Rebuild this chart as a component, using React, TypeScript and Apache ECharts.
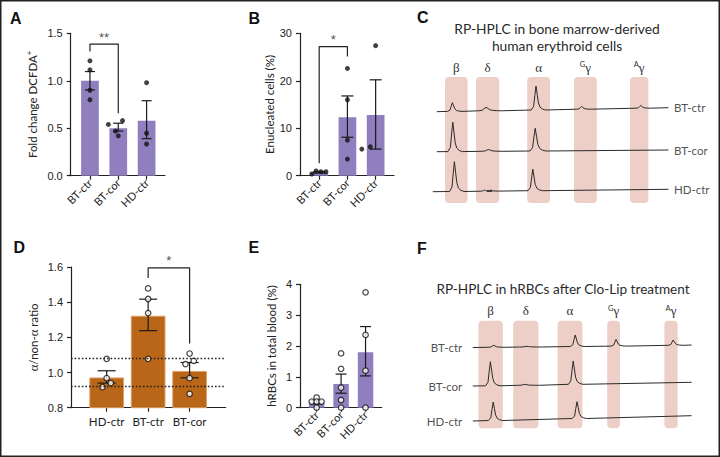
import React, { useEffect, useRef } from 'react';
import * as echarts from 'echarts';

// ---------------- DATA ----------------
// Panel A: fold change DCFDA+
const CATS_ABE = ['BT-ctr', 'BT-cor', 'HD-ctr'];
const A_MEAN = [1.0, 0.5, 0.58];
const A_ERR = [[0.904, 1.097], [0.47, 0.553], [0.39, 0.79]];
// [group, jitter, value]
const A_PTS = [
  [0, 0, 1.21], [0, 0, 1.115], [0, 0, 0.9], [0, 0, 0.8],
  [1, -0.35, 0.54], [1, 0.15, 0.58], [1, -0.1, 0.47], [1, 0.0, 0.42],
  [2, 0, 0.98], [2, 0, 0.447], [2, 0, 0.334],
];
const A_SIG = { from: 0, to: 1, top: 1.386, left: 1.308, right: 0.658, text: '**' };

// Panel B: enucleated cells (%)
const B_MEAN = [0.7, 12.3, 12.8];
const B_ERR = [[0.55, 0.85], [8.1, 16.8], [5.6, 20.2]];
const B_PTS = [
  [0, -0.26, 0.35], [0, -0.11, 1.0], [0, 0.06, 0.85], [0, 0.24, 0.85],
  [1, 0, 22.6], [1, 0, 16.0], [1, 0, 7.5], [1, 0, 3.5],
  [2, 0, 27.4], [2, -0.49, 5.6], [2, -0.19, 6.1],
];
const B_SIG = { from: 0, to: 1, top: 27.2, left: 2.6, right: 25.1, text: '*' };

// Panel D: alpha/non-alpha ratio
const CATS_D = ['HD-ctr', 'BT-ctr', 'BT-cor'];
const D_MEAN = [0.972, 1.323, 1.009];
const D_ERR = [[0.94, 1.01], [1.238, 1.417], [0.97, 1.057]];
const D_PTS = [
  [0, 0, 1.078], [0, 0, 0.968], [0, 0.1, 0.94], [0, -0.1, 0.917],
  [1, 0, 1.478], [1, 0, 1.418], [1, 0, 1.338], [1, 0, 1.078],
  [2, 0, 1.108], [2, -0.1, 1.048], [2, 0.1, 1.066], [2, 0, 0.968], [2, 0, 0.879],
];
const D_REF = [1.08, 0.92];
const D_SIG = { from: 1, to: 2, top: 1.595, left: 1.537, right: 1.165, text: '*' };

// Panel E: hRBCs in total blood (%)
const E_MEAN = [0.17, 0.77, 1.8];
const E_ERR = [[0.12, 0.24], [0.47, 1.09], [1.03, 2.63]];
const E_PTS = [
  [0, 0, 0.33], [0, -0.2, 0.2], [0, 0, 0.2], [0, 0.2, 0.2], [0, 0, 0.0],
  [1, 0, 1.76], [1, 0, 1.26], [1, 0, 0.65], [1, 0, 0.25], [1, 0, 0.0],
  [2, 0, 3.74], [2, 0, 2.36], [2, 0, 1.2], [2, 0, 0.0],
];

// Chromatograms: globin chain windows [tStart, tEnd] and labels
const GLOBIN_LABELS = ['β', 'δ', 'α', '{s|G}{g|γ}', '{s|A}{g|γ}'];
const C_WINDOWS = [[3.75, 9.4], [11.5, 17.3], [24.3, 30], [36, 41.7], [50, 54.6]];
const F_WINDOWS = [[2.1, 8.2], [10.8, 17.1], [21.9, 28.1], [34.3, 37.5], [48.6, 51.9]];
// peaks: [time, baseline, apex, width]
const C_TRACES = [
  { name: 'BT-ctr', start: [1.7, 91.3], end: [59.6, 95.3],
    peaks: [[5.6, 91.6, 100.3, 1], [14, 92.2, 95.7, 1.6], [26.5, 93.0, 117, 1], [37.9, 93.8, 96.5, 1], [52.7, 94.8, 97.5, 1]] },
  { name: 'BT-cor', start: [1.7, 51.3], end: [59.6, 53.0],
    peaks: [[5.7, 51.4, 80.7, 1], [14.6, 51.7, 53.5, 1.5], [26.3, 52.0, 74.7, 1.1]] },
  { name: 'HD-ctr', start: [0.7, 11.3], end: [59.6, 13.7],
    peaks: [[6.1, 11.5, 41.3, 1], [13.6, 11.8, 13.0, 0.8], [15.2, 11.9, 13.0, 0.8], [25.7, 12.3, 33.7, 1]] },
];
const F_TRACES = [
  { name: 'BT-ctr', start: [0.7, 80.8], end: [55.4, 83.3],
    peaks: [[5.9, 81.0, 83.0, 1.2], [14.2, 81.3, 82.0, 1.5], [26.3, 81.8, 93.3, 1], [36.5, 82.2, 88.8, 1], [50.8, 83.0, 88.3, 1]] },
  { name: 'BT-cor', start: [0.7, 42.3], end: [55.4, 46.0],
    peaks: [[5.1, 42.5, 66.6, 1], [13.75, 43.0, 44.0, 1.5], [25.8, 44.0, 67.3, 1]] },
  { name: 'HD-ctr', start: [0.7, 7.3], end: [55.4, 12.6],
    peaks: [[5.8, 7.8, 26.3, 1], [26.75, 9.8, 26.6, 1]] },
];
// relative peak glyph profile [dt, fraction of height]
const PEAK_PROFILE = [[-1.2, 0], [-0.6, 0.15], [-0.3, 0.6], [0, 1], [0.3, 0.65], [0.6, 0.3], [1.0, 0.12], [1.6, 0.04], [2.4, 0]];

// ---------------- STYLE ----------------
const AX = '#222';
const FONT = 'Lato, "Open Sans", sans-serif';
const NUMFONT = '"Liberation Sans", Arial, sans-serif';
const SERIF = '"Liberation Serif", "DejaVu Serif", serif';
const PURPLE = '#8f7fbe';
const ORANGE = '#b96618';
const PINK = '#eecfc8';

const grids = [
  { left: 70.7, top: 33.3, width: 94.3, height: 142.4 }, // A
  { left: 300, top: 33.3, width: 94, height: 142.4 }, // B
  { left: 71, top: 267, width: 154.7, height: 140.7 }, // D
  { left: 300, top: 284.3, width: 81.7, height: 123.4 }, // E
  { left: 430, top: 77, width: 240, height: 126 }, // C
  { left: 470, top: 320.7, width: 224, height: 107.6 }, // F
];

const lineStyle = { color: AX, width: 1.2 };

function barPanel(gi: number, p: any) {
  const idx = p.cats.map((_: any, i: number) => i);
  const xAxis = {
    gridIndex: gi, type: 'value', min: p.xmin, max: p.xmax,
    axisLine: { show: true, onZero: false, lineStyle },
    axisTick: { show: true, customValues: idx, length: 4, lineStyle },
    axisLabel: {
      show: true, customValues: idx, formatter: (v: number) => p.cats[Math.round(v)],
      rotate: p.rotate, margin: p.labelMargin, fontSize: p.catFont, color: '#222', fontFamily: FONT,
    },
    splitLine: { show: false },
  };
  const yAxis = {
    gridIndex: gi, type: 'value', min: p.ymin, max: p.ymax, interval: p.yint,
    axisLine: { show: true, onZero: false, lineStyle },
    axisTick: { show: true, length: 4, lineStyle },
    axisLabel: { formatter: (v: number) => v.toFixed(p.dec), margin: 8, fontSize: 11, color: '#222', fontFamily: NUMFONT },
    splitLine: { show: false },
    name: p.name, nameLocation: 'middle', nameGap: p.nameGap,
    nameTextStyle: {
      fontSize: 11.5, color: '#222', fontFamily: FONT,
      rich: {
        sup: { fontSize: 7.5, color: '#222', fontFamily: FONT, verticalAlign: 'top', lineHeight: 14 },
        g: { fontSize: 12.5, color: '#222', fontFamily: SERIF },
      },
    },
  };
  const series: any[] = [];
  const barSeries: any = {
    type: 'bar', xAxisIndex: gi, yAxisIndex: gi, z: 2, barWidth: p.barWidth,
    data: p.mean.map((v: number, i: number) => [i, v]),
    itemStyle: { color: p.color, borderColor: p.border, borderWidth: p.border ? 1 : 0 },
    silent: true,
  };
  if (p.ref) {
    barSeries.markLine = {
      symbol: ['none', 'none'], silent: true, label: { show: false },
      lineStyle: { type: [1.6, 2], color: '#222', width: 1.3 },
      data: p.ref.map((v: number) => ({ yAxis: v })),
    };
  }
  series.push(barSeries);
  const cap = p.cap;
  series.push({
    type: 'custom', xAxisIndex: gi, yAxisIndex: gi, z: 3, silent: true,
    data: p.err.map((e: number[], i: number) => [i, e[0], e[1]]),
    renderItem: (params: any, api: any) => {
      const x = api.value(0);
      const a = api.coord([x, api.value(1)]);
      const b = api.coord([x, api.value(2)]);
      const st = { stroke: '#1a1a1a', lineWidth: 1.2, fill: 'none' };
      return {
        type: 'group', children: [
          { type: 'line', shape: { x1: a[0], y1: a[1], x2: b[0], y2: b[1] }, style: st },
          { type: 'line', shape: { x1: a[0] - cap / 2, y1: a[1], x2: a[0] + cap / 2, y2: a[1] }, style: st },
          { type: 'line', shape: { x1: b[0] - cap / 2, y1: b[1], x2: b[0] + cap / 2, y2: b[1] }, style: st },
        ],
      };
    },
  });
  series.push({
    type: 'scatter', xAxisIndex: gi, yAxisIndex: gi, z: 4, silent: true,
    symbolSize: p.open ? 5.5 : 5,
    data: p.pts.map((q: number[]) => [q[0] + q[1], q[2]]),
    itemStyle: p.open ? { color: '#fff', borderColor: '#111', borderWidth: 1.2 } : { color: '#111' },
  });
  if (p.sig) {
    const s = p.sig;
    series.push({
      type: 'line', xAxisIndex: gi, yAxisIndex: gi, z: 5, silent: true, symbol: 'none',
      data: [[s.from, s.left], [s.from, s.top], [s.to, s.top], [s.to, s.right]],
      lineStyle: { color: '#222', width: 1.2 },
    });
    series.push({
      type: 'scatter', xAxisIndex: gi, yAxisIndex: gi, z: 5, silent: true, symbolSize: 1,
      itemStyle: { color: 'transparent' },
      data: [[(s.from + s.to) / 2, s.top]],
      label: { show: true, position: 'top', distance: 0, formatter: s.text, fontSize: 13, color: '#222', fontFamily: NUMFONT },
    });
  }
  return { xAxis, yAxis, series };
}

function traceData(tr: any) {
  const pts: number[][] = [tr.start];
  for (const [t, base, top, w] of tr.peaks) {
    for (const [dt, f] of PEAK_PROFILE) pts.push([t + dt * w, base + (top - base) * f]);
  }
  pts.push(tr.end);
  return pts;
}

function chromPanel(gi: number, p: any) {
  const xAxis = { gridIndex: gi, type: 'value', min: 0, max: p.tmax, show: false };
  const yAxis = { gridIndex: gi, type: 'value', min: 0, max: p.ymax, show: false };
  const series: any[] = [];
  series.push({
    type: 'custom', xAxisIndex: gi, yAxisIndex: gi, z: 1, silent: true,
    data: p.windows.map((w: number[]) => [w[0], w[1]]),
    renderItem: (params: any, api: any) => {
      const x0 = api.coord([api.value(0), 0])[0];
      const x1 = api.coord([api.value(1), 0])[0];
      const cs = params.coordSys;
      const lab = GLOBIN_LABELS[params.dataIndex];
      return {
        type: 'group', children: [
          { type: 'rect', shape: { x: x0, y: cs.y, width: x1 - x0, height: cs.height, r: 4 }, style: { fill: PINK } },
          {
            type: 'text', x: (x0 + x1) / 2, y: cs.y - 10,
            style: {
              text: lab.indexOf('{') >= 0 ? lab : '{g|' + lab + '}', align: 'center', verticalAlign: 'middle',
              rich: {
                g: { fontSize: 13, fontFamily: SERIF, fill: '#333', verticalAlign: 'bottom' },
                s: { fontSize: 7.5, fontFamily: FONT, fill: '#333', verticalAlign: 'top' },
              },
            },
          },
        ],
      };
    },
  });
  p.traces.forEach((tr: any) => {
    series.push({
      type: 'line', name: tr.name, xAxisIndex: gi, yAxisIndex: gi, z: 3, silent: true,
      symbol: 'none', data: traceData(tr),
      lineStyle: { color: '#2a2a2a', width: 1 },
    });
  });
  series.push({
    type: 'scatter', xAxisIndex: gi, yAxisIndex: gi, z: 4, silent: true, symbolSize: 1,
    itemStyle: { color: 'transparent' },
    data: p.traces.map((tr: any) => ({ name: tr.name, value: p.labelAtEnd ? tr.end : tr.start })),
    label: {
      show: true, position: p.labelAtEnd ? 'right' : 'left', distance: p.labelDist,
      formatter: '{b}', fontSize: 11.5, color: '#222', fontFamily: FONT,
    },
  });
  return { xAxis, yAxis, series };
}

function buildOption() {
  const panels = [
    barPanel(0, { cats: CATS_ABE, xmin: -0.68, xmax: 2.65, rotate: 45, labelMargin: 5, catFont: 11,
      ymin: 0, ymax: 1.5, yint: 0.5, dec: 1, name: 'Fold change DCFDA{sup|+}', nameGap: 31,
      mean: A_MEAN, err: A_ERR, pts: A_PTS, sig: A_SIG, color: PURPLE, barWidth: 17.7, cap: 10 }),
    barPanel(1, { cats: CATS_ABE, xmin: -0.68, xmax: 2.65, rotate: 45, labelMargin: 5, catFont: 11,
      ymin: 0, ymax: 30, yint: 10, dec: 0, name: 'Enucleated cells (%)', nameGap: 25,
      mean: B_MEAN, err: B_ERR, pts: B_PTS, sig: B_SIG, color: PURPLE, barWidth: 17.7, cap: 12 }),
    barPanel(2, { cats: CATS_D, xmin: -0.86, xmax: 2.87, rotate: 0, labelMargin: 8, catFont: 11.5,
      ymin: 0.8, ymax: 1.6, yint: 0.2, dec: 1, name: '{g|α}/non-{g|α} ratio', nameGap: 31,
      mean: D_MEAN, err: D_ERR, pts: D_PTS, sig: D_SIG, ref: D_REF, color: ORANGE, border: '#dca06a',
      barWidth: 34.7, cap: 18, open: true }),
    barPanel(3, { cats: CATS_ABE, xmin: -0.68, xmax: 2.66, rotate: 45, labelMargin: 5, catFont: 11,
      ymin: 0, ymax: 4, yint: 1, dec: 0, name: 'hRBCs in total blood (%)', nameGap: 23,
      mean: E_MEAN, err: E_ERR, pts: E_PTS, color: PURPLE, barWidth: 15.5, cap: 11, open: true }),
    chromPanel(4, { tmax: 60, ymax: 126, windows: C_WINDOWS, traces: C_TRACES, labelAtEnd: true, labelDist: 5 }),
    chromPanel(5, { tmax: 56, ymax: 107.6, windows: F_WINDOWS, traces: F_TRACES, labelAtEnd: false, labelDist: 10 }),
  ];

  const letter = (t: string, x: number, y: number) => ({
    type: 'text', x, y,
    style: { text: t, fontSize: 16, fontWeight: 'bold', fontFamily: NUMFONT, fill: '#111', verticalAlign: 'middle' },
  });

  const graphic = [
    { type: 'rect', shape: { x: 0.75, y: 0.75, width: 718.5, height: 455.5 }, style: { fill: 'none', stroke: '#222', lineWidth: 1.5 } },
    letter('A', 10, 18), letter('B', 248.5, 18.5), letter('C', 417, 17.5),
    letter('D', 13.5, 247), letter('E', 248.5, 247), letter('F', 417, 248),
    {
      type: 'text', x: 557, y: 37,
      style: { text: 'RP-HPLC in bone marrow-derived\nhuman erythroid cells', fontSize: 13.8, lineHeight: 17, fontFamily: FONT, fill: '#2a2a2a', align: 'center', verticalAlign: 'middle' },
    },
    {
      type: 'text', x: 563, y: 289,
      style: { text: 'RP-HPLC in hRBCs after Clo-Lip treatment', fontSize: 13.6, fontFamily: FONT, fill: '#2a2a2a', align: 'center', verticalAlign: 'middle' },
    },
  ];

  return {
    animation: false,
    backgroundColor: '#fff',
    grid: grids.map((g) => ({ ...g, containLabel: false })),
    xAxis: panels.map((p) => p.xAxis),
    yAxis: panels.map((p) => p.yAxis),
    series: panels.flatMap((p) => p.series),
    graphic,
  };
}

export default function App() {
  const ref = useRef<HTMLDivElement>(null);
  useEffect(() => {
    const chart = echarts.init(ref.current!, null, { renderer: 'svg' });
    chart.setOption(buildOption() as any);
    return () => chart.dispose();
  }, []);
  return (
    <div
      ref={ref}
      style={{ position: 'absolute', left: 0, top: 0, width: 720, height: 457, background: '#fff' }}
    />
  );
}
